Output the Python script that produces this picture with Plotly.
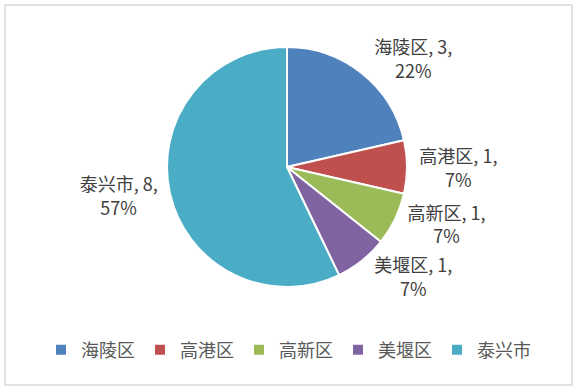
import plotly.graph_objects as go

labels = ["海陵区", "高港区", "高新区", "美堰区", "泰兴市"]
values = [3, 1, 1, 1, 8]
pct_text = ["22%", "7%", "7%", "7%", "57%"]
colors = ["#4F81BD", "#C0504D", "#9BBB59", "#8064A2", "#4BACC6"]

W, H = 577, 390
cx, cy, r = 287, 167, 120

fig = go.Figure(go.Pie(
    labels=labels,
    values=values,
    text=pct_text,
    texttemplate="%{label}, %{value},<br>%{text}",
    textposition="outside",
    textfont=dict(family="Noto Sans CJK SC", size=18, color="#404040"),
    marker=dict(colors=colors, line=dict(color="white", width=2)),
    sort=False,
    direction="clockwise",
    rotation=0,
    domain=dict(x=[(cx - r) / W, (cx + r) / W], y=[(H - cy - r) / H, (H - cy + r) / H]),
    hoverinfo="skip",
))

fig.update_layout(
    width=W, height=H,
    margin=dict(l=0, r=0, t=0, b=0),
    paper_bgcolor="white",
    font=dict(family="Noto Sans CJK SC", color="#595959"),
    legend=dict(
        orientation="h",
        x=0.5, xanchor="center",
        y=(H - 350) / H, yanchor="middle",
        font=dict(size=18, color="#595959"),
        itemwidth=30,
    ),
    shapes=[dict(type="rect", xref="paper", yref="paper",
                 x0=5 / W, x1=572 / W, y0=5 / H, y1=385 / H,
                 line=dict(color="#D9D9D9", width=1.5))],
)

fig.write_html("out.html")
